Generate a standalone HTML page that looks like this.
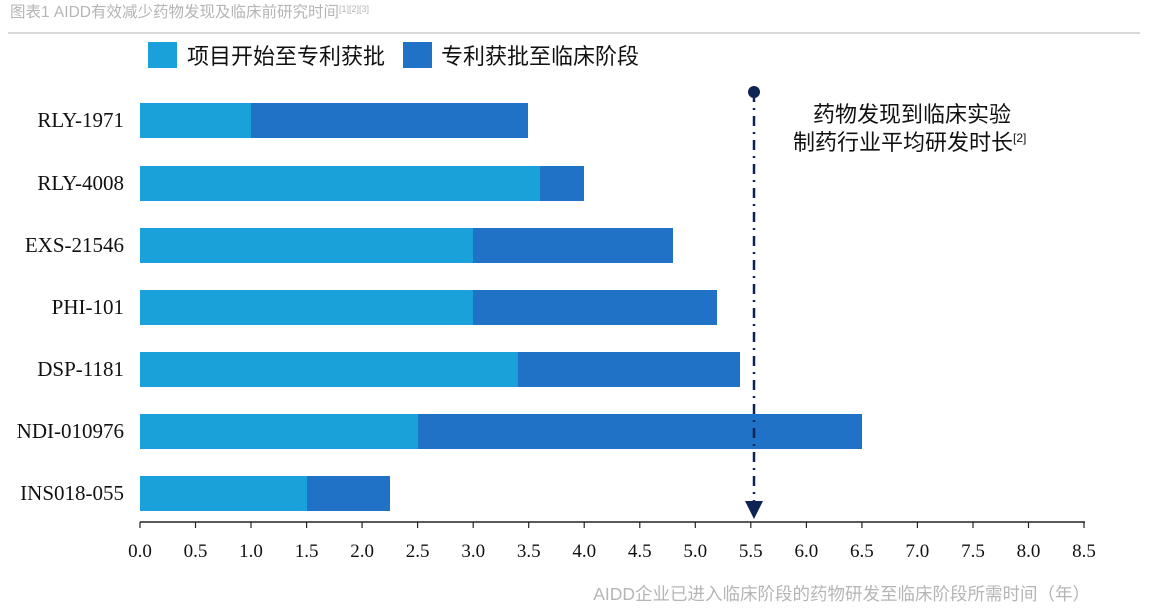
<!DOCTYPE html>
<html><head><meta charset="utf-8"><style>
html,body{margin:0;padding:0;background:#fff;}
svg{display:block;font-family:"Liberation Serif","Noto Serif CJK SC",serif;}
.cj{font-family:"Liberation Sans","Noto Sans CJK SC",sans-serif;}
</style></head><body>
<svg width="1157" height="613" viewBox="0 0 1157 613" xmlns="http://www.w3.org/2000/svg">
<text x="10" y="17" font-size="15.5" fill="#b5b5b5" class="cj">图表1 AIDD有效减少药物发现及临床前研究时间<tspan font-size="9" dy="-5">[1][2][3]</tspan></text>
<rect x="8" y="32" width="1132" height="2" fill="#d9d9d9"/>
<rect x="148" y="42" width="29" height="26" fill="#1ba1d9"/>
<text x="187" y="64" font-size="22" class="cj" fill="#111">项目开始至专利获批</text>
<rect x="403" y="42" width="29" height="26" fill="#1f72c6"/>
<text x="441" y="64" font-size="22" class="cj" fill="#111">专利获批至临床阶段</text>
<g font-size="21" fill="#111" text-anchor="end">
<text x="124" y="127">RLY-1971</text>
<text x="124" y="190">RLY-4008</text>
<text x="124" y="252">EXS-21546</text>
<text x="124" y="314">PHI-101</text>
<text x="124" y="376">DSP-1181</text>
<text x="124" y="438">NDI-010976</text>
<text x="124" y="500">INS018-055</text>
</g>
<g>
<rect x="140" y="103" width="111" height="35" fill="#1ba1d9"/><rect x="251" y="103" width="277" height="35" fill="#1f72c6"/>
<rect x="140" y="166" width="400" height="35" fill="#1ba1d9"/><rect x="540" y="166" width="44" height="35" fill="#1f72c6"/>
<rect x="140" y="228" width="333" height="35" fill="#1ba1d9"/><rect x="473" y="228" width="200" height="35" fill="#1f72c6"/>
<rect x="140" y="290" width="333" height="35" fill="#1ba1d9"/><rect x="473" y="290" width="244" height="35" fill="#1f72c6"/>
<rect x="140" y="352" width="378" height="35" fill="#1ba1d9"/><rect x="518" y="352" width="222" height="35" fill="#1f72c6"/>
<rect x="140" y="414" width="278" height="35" fill="#1ba1d9"/><rect x="418" y="414" width="444" height="35" fill="#1f72c6"/>
<rect x="140" y="476" width="167" height="35" fill="#1ba1d9"/><rect x="307" y="476" width="83" height="35" fill="#1f72c6"/>
</g>
<line x1="140" y1="522" x2="1085" y2="522" stroke="#222" stroke-width="1.5"/>
<g stroke="#222" stroke-width="1.2">
<line x1="140" y1="522" x2="140" y2="528"/><line x1="195.5" y1="522" x2="195.5" y2="528"/><line x1="251" y1="522" x2="251" y2="528"/><line x1="306.6" y1="522" x2="306.6" y2="528"/><line x1="362.1" y1="522" x2="362.1" y2="528"/><line x1="417.6" y1="522" x2="417.6" y2="528"/><line x1="473.2" y1="522" x2="473.2" y2="528"/><line x1="528.7" y1="522" x2="528.7" y2="528"/><line x1="584.2" y1="522" x2="584.2" y2="528"/><line x1="639.8" y1="522" x2="639.8" y2="528"/><line x1="695.3" y1="522" x2="695.3" y2="528"/><line x1="750.8" y1="522" x2="750.8" y2="528"/><line x1="806.4" y1="522" x2="806.4" y2="528"/><line x1="861.9" y1="522" x2="861.9" y2="528"/><line x1="917.4" y1="522" x2="917.4" y2="528"/><line x1="973" y1="522" x2="973" y2="528"/><line x1="1028.5" y1="522" x2="1028.5" y2="528"/><line x1="1084" y1="522" x2="1084" y2="528"/>
</g>
<g font-size="19" fill="#111" text-anchor="middle">
<text x="140" y="557">0.0</text><text x="195.5" y="557">0.5</text><text x="251" y="557">1.0</text><text x="306.6" y="557">1.5</text><text x="362.1" y="557">2.0</text><text x="417.6" y="557">2.5</text><text x="473.2" y="557">3.0</text><text x="528.7" y="557">3.5</text><text x="584.2" y="557">4.0</text><text x="639.8" y="557">4.5</text><text x="695.3" y="557">5.0</text><text x="750.8" y="557">5.5</text><text x="806.4" y="557">6.0</text><text x="861.9" y="557">6.5</text><text x="917.4" y="557">7.0</text><text x="973" y="557">7.5</text><text x="1028.5" y="557">8.0</text><text x="1084" y="557">8.5</text>
</g>
<circle cx="754" cy="92" r="6" fill="#0f2454"/>
<line x1="754" y1="92" x2="754" y2="505" stroke="#0f2454" stroke-width="2.5" stroke-dasharray="10,6,2,6"/>
<polygon points="745,501 763,501 754,519" fill="#0f2454"/>
<text x="912" y="122" font-size="22" class="cj" fill="#111" text-anchor="middle">药物发现到临床实验</text>
<text x="793" y="150" font-size="22" class="cj" fill="#111">制药行业平均研发时长<tspan font-size="12" dy="-8">[2]</tspan></text>
<text x="1090" y="600" font-size="17.5" class="cj" fill="#b5b5b5" text-anchor="end">AIDD企业已进入临床阶段的药物研发至临床阶段所需时间（年）</text>
</svg>
</body></html>
